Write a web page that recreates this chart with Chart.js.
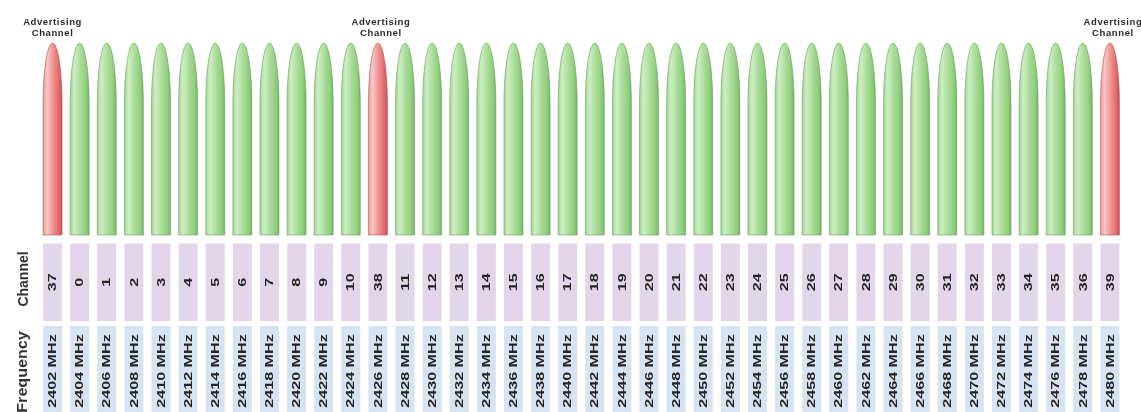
<!DOCTYPE html>
<html><head><meta charset="utf-8">
<script src="https://cdn.jsdelivr.net/npm/chart.js@4.4.1/dist/chart.umd.min.js"></script>
<style>html,body{margin:0;padding:0;background:#fff;overflow:hidden}#wrap{width:1141px;height:412px}</style>
</head><body><div id="wrap"><canvas id="c" width="1141" height="412"></canvas></div>
<script>
const channels = ['37','0','1','2','3','4','5','6','7','8','9','10','38','11','12','13','14','15','16','17','18','19','20','21','22','23','24','25','26','27','28','29','30','31','32','33','34','35','36','39'];
const frequencies = ['2402 MHz','2404 MHz','2406 MHz','2408 MHz','2410 MHz','2412 MHz','2414 MHz','2416 MHz','2418 MHz','2420 MHz','2422 MHz','2424 MHz','2426 MHz','2428 MHz','2430 MHz','2432 MHz','2434 MHz','2436 MHz','2438 MHz','2440 MHz','2442 MHz','2444 MHz','2446 MHz','2448 MHz','2450 MHz','2452 MHz','2454 MHz','2456 MHz','2458 MHz','2460 MHz','2462 MHz','2464 MHz','2466 MHz','2468 MHz','2470 MHz','2472 MHz','2474 MHz','2476 MHz','2478 MHz','2480 MHz'];
const signalLevel = [1,1,1,1,1,1,1,1,1,1,1,1,1,1,1,1,1,1,1,1,1,1,1,1,1,1,1,1,1,1,1,1,1,1,1,1,1,1,1,1];
const advertisingChannels = ['37','38','39'];
const advertisingLabel = ['Advertising','Channel'];
const rowTitles = ['Channel','Frequency'];

const greenStops = [[0,'#a3d893'],[0.22,'#cdeec3'],[0.55,'#a9dc98'],[0.85,'#8ecd7c'],[1,'#76b566']];
const redStops = [[0,'#ee9a9a'],[0.22,'#f8c6c6'],[0.55,'#ef9090'],[0.85,'#e36767'],[1,'#c95454']];

const shapePlugin = {
  id: 'shapes',
  afterDatasetsDraw(chart) {
    const ctx = chart.ctx;
    const meta = chart.getDatasetMeta(0);
    const area = chart.chartArea;
    meta.data.forEach((bar, i) => {
      const w = bar.width, cx = bar.x, x0 = cx - w / 2, x1 = cx + w / 2;
      const top = bar.y, base = bar.base;
      const adv = advertisingChannels.includes(channels[i]);
      const g = ctx.createLinearGradient(x0, 0, x1, 0);
      (adv ? redStops : greenStops).forEach(s => g.addColorStop(s[0], s[1]));
      const ry = 60;
      ctx.save();
      ctx.beginPath();
      ctx.moveTo(x0, base);
      ctx.lineTo(x0, top + ry);
      ctx.ellipse(cx, top + ry, w / 2, ry, 0, Math.PI, 2 * Math.PI);
      ctx.lineTo(x1, base);
      ctx.closePath();
      ctx.fillStyle = g;
      ctx.fill();
      ctx.lineWidth = 0.8;
      ctx.strokeStyle = adv ? 'rgba(170,80,80,0.7)' : 'rgba(100,150,90,0.7)';
      ctx.stroke();
      ctx.restore();

      // rows
      const r1t = area.bottom + 8.5, r1h = 77.5;
      const r2t = area.bottom + 91, r2h = 86;
      ctx.save();
      ctx.fillStyle = '#e3d6eb';
      ctx.fillRect(x0, r1t, w, r1h);
      ctx.fillStyle = '#d6e3f2';
      ctx.fillRect(x0, r2t, w, r2h);
      ctx.fillStyle = '#252525';
      ctx.font = 'bold 11.5px "Liberation Sans", Arial, sans-serif';
      ctx.textAlign = 'center';
      ctx.textBaseline = 'middle';
      ctx.save();
      ctx.translate(cx + 0.5, r1t + r1h / 2);
      ctx.rotate(-Math.PI / 2);
      ctx.scale(1.4, 1);
      ctx.fillText(channels[i], 0, 0);
      ctx.restore();
      ctx.save();
      ctx.translate(cx + 0.5, r2t + r2h / 2 + 2);
      ctx.rotate(-Math.PI / 2);
      ctx.scale(1.4, 1);
      ctx.fillText(frequencies[i], 0, 0);
      ctx.restore();
      ctx.restore();

      if (adv) {
        ctx.save();
        ctx.fillStyle = '#2a2a2a';
        ctx.font = 'bold 9.5px "Liberation Sans", Arial, sans-serif';
        ctx.textAlign = 'center';
        ctx.textBaseline = 'middle';
        ctx.letterSpacing = '0.6px';
        const lx = i === 0 ? cx : cx + 3;
        ctx.fillText(advertisingLabel[0], lx, top - 21);
        ctx.fillText(advertisingLabel[1], lx, top - 10);
        ctx.restore();
      }
    });
    // row titles
    ctx.save();
    ctx.fillStyle = '#333';
    ctx.font = 'bold 14px "Liberation Sans", Arial, sans-serif';
    ctx.textAlign = 'center';
    ctx.textBaseline = 'middle';
    ctx.translate(24, area.bottom + 44);
    ctx.rotate(-Math.PI / 2);
    ctx.fillText(rowTitles[0], 0, 0);
    ctx.restore();
    ctx.save();
    ctx.fillStyle = '#333';
    ctx.font = 'bold 14px "Liberation Sans", Arial, sans-serif';
    ctx.textAlign = 'center';
    ctx.textBaseline = 'middle';
    ctx.translate(23, area.bottom + 137);
    ctx.rotate(-Math.PI / 2);
    ctx.scale(1.15, 1);
    ctx.fillText(rowTitles[1], 0, 0);
    ctx.restore();
  }
};

new Chart(document.getElementById('c'), {
  type: 'bar',
  data: {
    labels: channels,
    datasets: [{
      label: 'BLE channels',
      data: signalLevel,
      backgroundColor: 'rgba(0,0,0,0)',
      borderWidth: 0,
      barPercentage: 0.7,
      categoryPercentage: 1
    }]
  },
  options: {
    responsive: false,
    animation: false,
    layout: { padding: { left: 39, right: 17.5, top: 43, bottom: 177 } },
    scales: {
      x: { display: false },
      y: { display: false, min: 0, max: 1 }
    },
    plugins: { legend: { display: false }, tooltip: { enabled: false } }
  },
  plugins: [shapePlugin]
});
</script>
</body></html>
